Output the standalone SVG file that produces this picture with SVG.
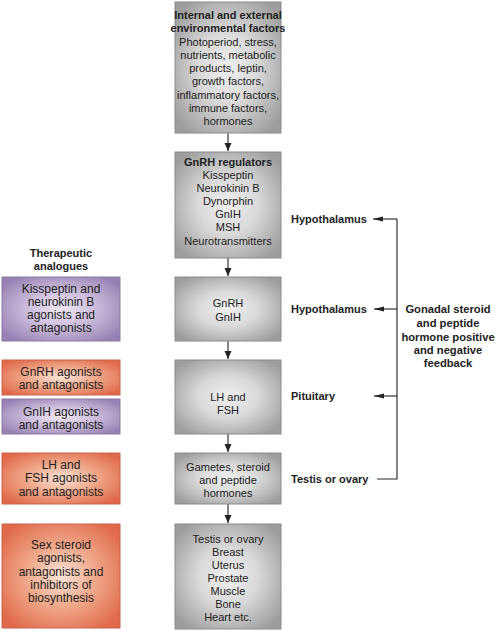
<svg xmlns="http://www.w3.org/2000/svg" width="500" height="633" viewBox="0 0 500 633">
<defs>
<radialGradient id="gGray" cx="0.5" cy="0.5" r="0.62">
<stop offset="0" stop-color="#f0f0f0"/>
<stop offset="0.45" stop-color="#d9d9d9"/>
<stop offset="1" stop-color="#9d9d9d"/>
</radialGradient>
<radialGradient id="gPurple" cx="0.5" cy="0.5" r="0.62">
<stop offset="0" stop-color="#efe8f4"/>
<stop offset="0.45" stop-color="#cdbedd"/>
<stop offset="1" stop-color="#9780b3"/>
</radialGradient>
<radialGradient id="gOrange" cx="0.5" cy="0.5" r="0.62">
<stop offset="0" stop-color="#fbe3d6"/>
<stop offset="0.45" stop-color="#f1ab8e"/>
<stop offset="1" stop-color="#e0694a"/>
</radialGradient>
<marker id="ahDown" viewBox="0 0 8 10" refX="8" refY="5" markerWidth="8" markerHeight="10" markerUnits="userSpaceOnUse" orient="auto">
<path d="M0,1.5 L8,5 L0,8.5 Z" fill="#222"/>
</marker>
<marker id="ahLeft" viewBox="0 0 10 8" refX="10" refY="4" markerWidth="10" markerHeight="8" markerUnits="userSpaceOnUse" orient="auto">
<path d="M0,1.5 L10,4 L0,6.5 Z" fill="#222"/>
</marker>
</defs>
<style>
.gray{fill:url(#gGray);stroke:#8a8a8a;stroke-width:1}
.purple{fill:url(#gPurple);stroke:#8a7aa0;stroke-width:1}
.orange{fill:url(#gOrange);stroke:#c9654a;stroke-width:1}
text{font-family:"Liberation Sans",Arial,sans-serif;fill:#222;text-anchor:middle}
.c{font-size:11px}
.l{font-size:12px}
.b{font-weight:bold}
.lab{font-size:11px;font-weight:bold;text-anchor:start}
.fb{font-size:11.2px;font-weight:bold}
.conn{stroke:#222;stroke-width:1.1;fill:none}
</style>

<g id="connectors">
<line class="conn" x1="228" y1="133" x2="228" y2="151" marker-end="url(#ahDown)"/>
<line class="conn" x1="228" y1="258" x2="228" y2="276" marker-end="url(#ahDown)"/>
<line class="conn" x1="228" y1="341" x2="228" y2="359" marker-end="url(#ahDown)"/>
<line class="conn" x1="228" y1="434" x2="228" y2="452" marker-end="url(#ahDown)"/>
<line class="conn" x1="228" y1="504" x2="228" y2="523" marker-end="url(#ahDown)"/>
<polyline class="conn" points="377,479 397,479 397,219"/>
<line class="conn" x1="397" y1="219" x2="373" y2="219" marker-end="url(#ahLeft)"/>
<line class="conn" x1="397" y1="309" x2="374" y2="309" marker-end="url(#ahLeft)"/>
<line class="conn" x1="397" y1="396" x2="374" y2="396" marker-end="url(#ahLeft)"/>
</g>

<g id="env-factors">
<rect class="gray" x="175" y="2" width="106" height="131"/>
<text class="c b" x="228" y="19">Internal and external</text>
<text class="c b" x="228" y="32">environmental factors</text>
<text class="c" x="228" y="46">Photoperiod, stress,</text>
<text class="c" x="228" y="59">nutrients, metabolic</text>
<text class="c" x="228" y="72">products, leptin,</text>
<text class="c" x="228" y="85">growth factors,</text>
<text class="c" x="228" y="99">inflammatory factors,</text>
<text class="c" x="228" y="112">immune factors,</text>
<text class="c" x="228" y="125">hormones</text>
</g>

<g id="gnrh-regulators">
<rect class="gray" x="175" y="152" width="106" height="106"/>
<text class="c b" x="228" y="166">GnRH regulators</text>
<text class="c" x="228" y="179">Kisspeptin</text>
<text class="c" x="228" y="192">Neurokinin B</text>
<text class="c" x="228" y="205">Dynorphin</text>
<text class="c" x="228" y="218">GnIH</text>
<text class="c" x="228" y="231">MSH</text>
<text class="c" x="228" y="245">Neurotransmitters</text>
</g>

<g id="gnrh-gnih">
<rect class="gray" x="175" y="277" width="106" height="64"/>
<text class="c" x="228" y="307">GnRH</text>
<text class="c" x="228" y="321">GnIH</text>
</g>

<g id="lh-fsh">
<rect class="gray" x="175" y="360" width="106" height="74"/>
<text class="c" x="228" y="401">LH and</text>
<text class="c" x="228" y="414">FSH</text>
</g>

<g id="gametes">
<rect class="gray" x="175" y="453" width="106" height="51"/>
<text class="c" x="228" y="471">Gametes, steroid</text>
<text class="c" x="228" y="484">and peptide</text>
<text class="c" x="228" y="497">hormones</text>
</g>

<g id="targets">
<rect class="gray" x="175" y="524" width="106" height="105"/>
<text class="c" x="228" y="543">Testis or ovary</text>
<text class="c" x="228" y="556">Breast</text>
<text class="c" x="228" y="569">Uterus</text>
<text class="c" x="228" y="582">Prostate</text>
<text class="c" x="228" y="595">Muscle</text>
<text class="c" x="228" y="608">Bone</text>
<text class="c" x="228" y="621">Heart etc.</text>
</g>

<g id="therapeutic-title">
<text class="c b" x="61" y="257">Therapeutic</text>
<text class="c b" x="61" y="270">analogues</text>
</g>

<g id="kiss-analogues">
<rect class="purple" x="2" y="277" width="118" height="64"/>
<text class="l" x="61" y="293">Kisspeptin and</text>
<text class="l" x="61" y="306">neurokinin B</text>
<text class="l" x="61" y="319">agonists and</text>
<text class="l" x="61" y="332">antagonists</text>
</g>

<g id="gnrh-analogues">
<rect class="orange" x="2" y="360" width="118" height="35"/>
<text class="l" x="61" y="376">GnRH agonists</text>
<text class="l" x="61" y="389">and antagonists</text>
</g>

<g id="gnih-analogues">
<rect class="purple" x="2" y="399" width="118" height="35"/>
<text class="l" x="61" y="416">GnIH agonists</text>
<text class="l" x="61" y="429">and antagonists</text>
</g>

<g id="lhfsh-analogues">
<rect class="orange" x="2" y="453" width="118" height="51"/>
<text class="l" x="61" y="469">LH and</text>
<text class="l" x="61" y="482">FSH agonists</text>
<text class="l" x="61" y="496">and antagonists</text>
</g>

<g id="steroid-analogues">
<rect class="orange" x="2" y="524" width="118" height="104"/>
<text class="l" x="61" y="549">Sex steroid</text>
<text class="l" x="61" y="562">agonists,</text>
<text class="l" x="61" y="576">antagonists and</text>
<text class="l" x="61" y="589">inhibitors of</text>
<text class="l" x="61" y="602">biosynthesis</text>
</g>

<g id="level-labels">
<text class="lab" x="291" y="223">Hypothalamus</text>
<text class="lab" x="291" y="313">Hypothalamus</text>
<text class="lab" x="291" y="400">Pituitary</text>
<text class="lab" x="291" y="483">Testis or ovary</text>
</g>

<g id="feedback-label">
<text class="fb" x="448" y="313">Gonadal steroid</text>
<text class="fb" x="448" y="327">and peptide</text>
<text class="fb" x="448" y="341">hormone positive</text>
<text class="fb" x="448" y="354">and negative</text>
<text class="fb" x="448" y="367">feedback</text>
</g>
</svg>
